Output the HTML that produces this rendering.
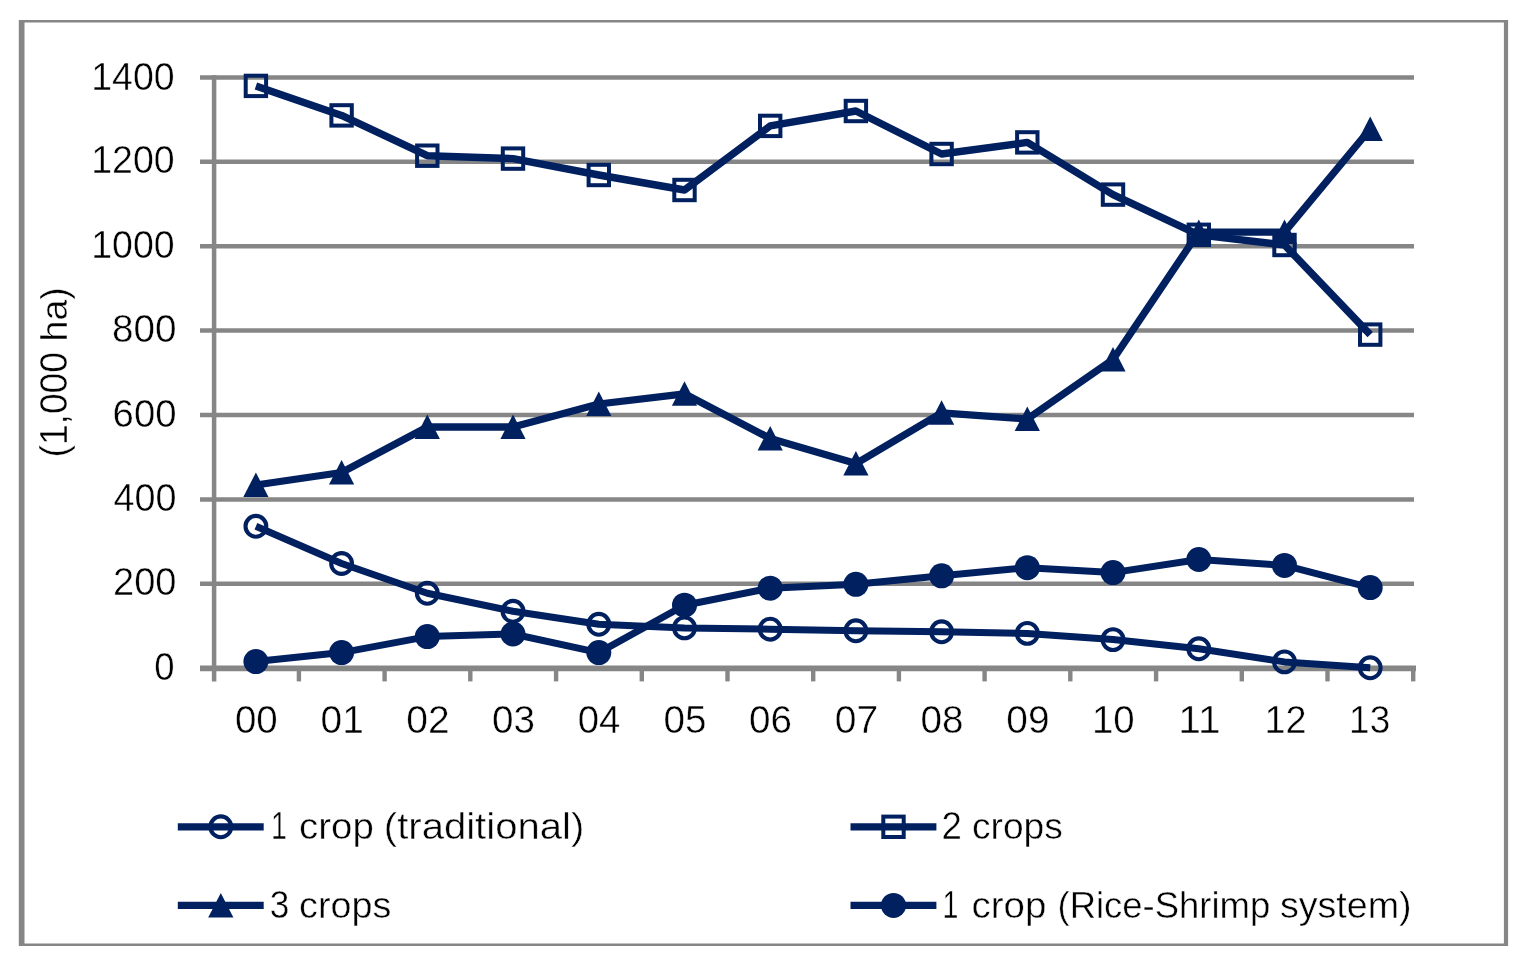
<!DOCTYPE html>
<html lang="en"><head><meta charset="utf-8"><title>Rice cropping area chart</title>
<style>html,body{margin:0;padding:0;background:#fff}body{width:1530px;height:970px;overflow:hidden}svg{display:block}text{font-family:"Liberation Sans",sans-serif;font-size:38px;fill:#000;stroke:#fff;stroke-width:0.45px}</style>
</head><body>
<svg width="1530" height="970" viewBox="0 0 1530 970">
<rect x="0" y="0" width="1530" height="970" fill="#fff"/>
<path d="M18.8 20.05H1508.1V946.1H18.8Z M24.5 22.55V943.6H1503.9V22.55Z" fill="#868686" fill-rule="evenodd"/>
<line x1="200" y1="77.4" x2="1414" y2="77.4" stroke="#868686" stroke-width="4.5"/>
<line x1="200" y1="161.8" x2="1414" y2="161.8" stroke="#868686" stroke-width="4.5"/>
<line x1="200" y1="246.2" x2="1414" y2="246.2" stroke="#868686" stroke-width="4.5"/>
<line x1="200" y1="330.6" x2="1414" y2="330.6" stroke="#868686" stroke-width="4.5"/>
<line x1="200" y1="415.0" x2="1414" y2="415.0" stroke="#868686" stroke-width="4.5"/>
<line x1="200" y1="499.4" x2="1414" y2="499.4" stroke="#868686" stroke-width="4.5"/>
<line x1="200" y1="583.8" x2="1414" y2="583.8" stroke="#868686" stroke-width="4.5"/>
<line x1="200" y1="668.2" x2="1414" y2="668.2" stroke="#868686" stroke-width="4.5"/>
<line x1="200" y1="668.3" x2="1416" y2="668.3" stroke="#868686" stroke-width="5.8"/>
<line x1="214.1" y1="75.15" x2="214.1" y2="681.4" stroke="#868686" stroke-width="4.5"/>
<line x1="298.9" y1="667" x2="298.9" y2="681.4" stroke="#868686" stroke-width="4.4"/>
<line x1="384.6" y1="667" x2="384.6" y2="681.4" stroke="#868686" stroke-width="4.4"/>
<line x1="470.3" y1="667" x2="470.3" y2="681.4" stroke="#868686" stroke-width="4.4"/>
<line x1="556.1" y1="667" x2="556.1" y2="681.4" stroke="#868686" stroke-width="4.4"/>
<line x1="641.8" y1="667" x2="641.8" y2="681.4" stroke="#868686" stroke-width="4.4"/>
<line x1="727.5" y1="667" x2="727.5" y2="681.4" stroke="#868686" stroke-width="4.4"/>
<line x1="813.2" y1="667" x2="813.2" y2="681.4" stroke="#868686" stroke-width="4.4"/>
<line x1="898.9" y1="667" x2="898.9" y2="681.4" stroke="#868686" stroke-width="4.4"/>
<line x1="984.6" y1="667" x2="984.6" y2="681.4" stroke="#868686" stroke-width="4.4"/>
<line x1="1070.3" y1="667" x2="1070.3" y2="681.4" stroke="#868686" stroke-width="4.4"/>
<line x1="1156.1" y1="667" x2="1156.1" y2="681.4" stroke="#868686" stroke-width="4.4"/>
<line x1="1241.8" y1="667" x2="1241.8" y2="681.4" stroke="#868686" stroke-width="4.4"/>
<line x1="1327.5" y1="667" x2="1327.5" y2="681.4" stroke="#868686" stroke-width="4.4"/>
<line x1="1413.2" y1="667" x2="1413.2" y2="681.4" stroke="#868686" stroke-width="4.4"/>
<text x="91.2" y="89.5" textLength="83.4" lengthAdjust="spacingAndGlyphs">1400</text>
<text x="91.2" y="172.8" textLength="83.4" lengthAdjust="spacingAndGlyphs">1200</text>
<text x="91.2" y="257.7" textLength="83.4" lengthAdjust="spacingAndGlyphs">1000</text>
<text x="112.0" y="342.4" textLength="64.5" lengthAdjust="spacingAndGlyphs">800</text>
<text x="112.6" y="427.2" textLength="63.9" lengthAdjust="spacingAndGlyphs">600</text>
<text x="113.4" y="510.5" textLength="63.0" lengthAdjust="spacingAndGlyphs">400</text>
<text x="113.0" y="595.3" textLength="63.5" lengthAdjust="spacingAndGlyphs">200</text>
<text x="154.3" y="680.1" textLength="20.3" lengthAdjust="spacingAndGlyphs">0</text>
<text x="234.9" y="733.4" textLength="42.8" lengthAdjust="spacingAndGlyphs">00</text>
<text x="320.6" y="733.4" textLength="43.2" lengthAdjust="spacingAndGlyphs">01</text>
<text x="406.3" y="733.4" textLength="43.4" lengthAdjust="spacingAndGlyphs">02</text>
<text x="492.0" y="733.4" textLength="43.0" lengthAdjust="spacingAndGlyphs">03</text>
<text x="577.7" y="733.4" textLength="42.6" lengthAdjust="spacingAndGlyphs">04</text>
<text x="663.4" y="733.4" textLength="43.0" lengthAdjust="spacingAndGlyphs">05</text>
<text x="749.1" y="733.4" textLength="43.0" lengthAdjust="spacingAndGlyphs">06</text>
<text x="834.8" y="733.4" textLength="43.4" lengthAdjust="spacingAndGlyphs">07</text>
<text x="920.6" y="733.4" textLength="43.0" lengthAdjust="spacingAndGlyphs">08</text>
<text x="1006.3" y="733.4" textLength="43.2" lengthAdjust="spacingAndGlyphs">09</text>
<text x="1091.9" y="733.4" textLength="42.7" lengthAdjust="spacingAndGlyphs">10</text>
<text x="1178.3" y="733.4" textLength="42.3" lengthAdjust="spacingAndGlyphs">11</text>
<text x="1264.5" y="733.4" textLength="42.1" lengthAdjust="spacingAndGlyphs">12</text>
<text x="1349.1" y="733.4" textLength="41.1" lengthAdjust="spacingAndGlyphs">13</text>
<text y="0.0" transform="translate(67 455) rotate(-90)"><tspan x="-2.5" textLength="105.5" lengthAdjust="spacingAndGlyphs" style="font-size:38px">(1,000</tspan> <tspan x="113.6" textLength="54.1" lengthAdjust="spacingAndGlyphs" style="font-size:36.3px">ha)</tspan></text>
<polyline points="255.9,526.3 341.6,563.5 427.3,593.3 513.0,611.3 598.8,624.3 684.5,627.9 770.2,629.2 855.9,630.8 941.6,631.8 1027.3,633.4 1113.0,639.6 1198.8,648.8 1284.5,661.9 1370.2,667.8" fill="none" stroke="#002060" stroke-width="7.0" stroke-linejoin="round" stroke-linecap="butt"/>
<circle cx="255.9" cy="526.3" r="10.4" fill="none" stroke="#002060" stroke-width="4.1"/>
<circle cx="341.6" cy="563.5" r="10.4" fill="none" stroke="#002060" stroke-width="4.1"/>
<circle cx="427.3" cy="593.3" r="10.4" fill="none" stroke="#002060" stroke-width="4.1"/>
<circle cx="513.0" cy="611.3" r="10.4" fill="none" stroke="#002060" stroke-width="4.1"/>
<circle cx="598.8" cy="624.3" r="10.4" fill="none" stroke="#002060" stroke-width="4.1"/>
<circle cx="684.5" cy="627.9" r="10.4" fill="none" stroke="#002060" stroke-width="4.1"/>
<circle cx="770.2" cy="629.2" r="10.4" fill="none" stroke="#002060" stroke-width="4.1"/>
<circle cx="855.9" cy="630.8" r="10.4" fill="none" stroke="#002060" stroke-width="4.1"/>
<circle cx="941.6" cy="631.8" r="10.4" fill="none" stroke="#002060" stroke-width="4.1"/>
<circle cx="1027.3" cy="633.4" r="10.4" fill="none" stroke="#002060" stroke-width="4.1"/>
<circle cx="1113.0" cy="639.6" r="10.4" fill="none" stroke="#002060" stroke-width="4.1"/>
<circle cx="1198.8" cy="648.8" r="10.4" fill="none" stroke="#002060" stroke-width="4.1"/>
<circle cx="1284.5" cy="661.9" r="10.4" fill="none" stroke="#002060" stroke-width="4.1"/>
<circle cx="1370.2" cy="667.8" r="10.4" fill="none" stroke="#002060" stroke-width="4.1"/>
<polyline points="255.9,85.9 341.6,115.4 427.3,155.7 513.0,158.6 598.8,175.0 684.5,190.0 770.2,125.9 855.9,111.0 941.6,154.0 1027.3,142.4 1113.0,194.6 1198.8,234.8 1284.5,245.0 1370.2,334.6" fill="none" stroke="#002060" stroke-width="7.4" stroke-linejoin="round" stroke-linecap="butt"/>
<rect x="245.7" y="75.7" width="20.4" height="20.4" fill="none" stroke="#002060" stroke-width="4"/>
<rect x="331.4" y="105.2" width="20.4" height="20.4" fill="none" stroke="#002060" stroke-width="4"/>
<rect x="417.1" y="145.5" width="20.4" height="20.4" fill="none" stroke="#002060" stroke-width="4"/>
<rect x="502.8" y="148.4" width="20.4" height="20.4" fill="none" stroke="#002060" stroke-width="4"/>
<rect x="588.6" y="164.8" width="20.4" height="20.4" fill="none" stroke="#002060" stroke-width="4"/>
<rect x="674.3" y="179.8" width="20.4" height="20.4" fill="none" stroke="#002060" stroke-width="4"/>
<rect x="760.0" y="115.7" width="20.4" height="20.4" fill="none" stroke="#002060" stroke-width="4"/>
<rect x="845.7" y="100.8" width="20.4" height="20.4" fill="none" stroke="#002060" stroke-width="4"/>
<rect x="931.4" y="143.8" width="20.4" height="20.4" fill="none" stroke="#002060" stroke-width="4"/>
<rect x="1017.1" y="132.2" width="20.4" height="20.4" fill="none" stroke="#002060" stroke-width="4"/>
<rect x="1102.8" y="184.4" width="20.4" height="20.4" fill="none" stroke="#002060" stroke-width="4"/>
<rect x="1188.6" y="224.6" width="20.4" height="20.4" fill="none" stroke="#002060" stroke-width="4"/>
<rect x="1274.3" y="234.8" width="20.4" height="20.4" fill="none" stroke="#002060" stroke-width="4"/>
<rect x="1360.0" y="324.4" width="20.4" height="20.4" fill="none" stroke="#002060" stroke-width="4"/>
<polyline points="255.9,485.0 341.6,472.5 427.3,427.0 513.0,427.0 598.8,404.0 684.5,393.8 770.2,438.5 855.9,463.6 941.6,412.8 1027.3,419.0 1113.0,359.5 1198.8,232.1 1284.5,232.1 1370.2,129.0" fill="none" stroke="#002060" stroke-width="7.3" stroke-linejoin="round" stroke-linecap="butt"/>
<polygon points="255.9,472.5 268.5,497.0 243.3,497.0" fill="#002060"/>
<polygon points="341.6,460.0 354.2,484.5 329.0,484.5" fill="#002060"/>
<polygon points="427.3,414.5 439.9,439.0 414.7,439.0" fill="#002060"/>
<polygon points="513.0,414.5 525.6,439.0 500.4,439.0" fill="#002060"/>
<polygon points="598.8,391.5 611.4,416.0 586.2,416.0" fill="#002060"/>
<polygon points="684.5,381.3 697.1,405.8 671.9,405.8" fill="#002060"/>
<polygon points="770.2,426.0 782.8,450.5 757.6,450.5" fill="#002060"/>
<polygon points="855.9,451.1 868.5,475.6 843.3,475.6" fill="#002060"/>
<polygon points="941.6,400.3 954.2,424.8 929.0,424.8" fill="#002060"/>
<polygon points="1027.3,406.5 1039.9,431.0 1014.7,431.0" fill="#002060"/>
<polygon points="1113.0,347.0 1125.6,371.5 1100.4,371.5" fill="#002060"/>
<polygon points="1198.8,219.6 1211.4,244.1 1186.2,244.1" fill="#002060"/>
<polygon points="1284.5,219.6 1297.1,244.1 1271.9,244.1" fill="#002060"/>
<polygon points="1370.2,116.5 1382.8,141.0 1357.6,141.0" fill="#002060"/>
<polyline points="255.9,661.6 341.6,652.6 427.3,636.6 513.0,634.0 598.8,652.6 684.5,605.2 770.2,588.2 855.9,584.3 941.6,575.8 1027.3,567.7 1113.0,572.6 1198.8,559.5 1284.5,565.4 1370.2,587.6" fill="none" stroke="#002060" stroke-width="7.0" stroke-linejoin="round" stroke-linecap="butt"/>
<circle cx="255.9" cy="661.6" r="12.5" fill="#002060"/>
<circle cx="341.6" cy="652.6" r="12.5" fill="#002060"/>
<circle cx="427.3" cy="636.6" r="12.5" fill="#002060"/>
<circle cx="513.0" cy="634.0" r="12.5" fill="#002060"/>
<circle cx="598.8" cy="652.6" r="12.5" fill="#002060"/>
<circle cx="684.5" cy="605.2" r="12.5" fill="#002060"/>
<circle cx="770.2" cy="588.2" r="12.5" fill="#002060"/>
<circle cx="855.9" cy="584.3" r="12.5" fill="#002060"/>
<circle cx="941.6" cy="575.8" r="12.5" fill="#002060"/>
<circle cx="1027.3" cy="567.7" r="12.5" fill="#002060"/>
<circle cx="1113.0" cy="572.6" r="12.5" fill="#002060"/>
<circle cx="1198.8" cy="559.5" r="12.5" fill="#002060"/>
<circle cx="1284.5" cy="565.4" r="12.5" fill="#002060"/>
<circle cx="1370.2" cy="587.6" r="12.5" fill="#002060"/>
<line x1="177.8" y1="826.8" x2="263.7" y2="826.8" stroke="#002060" stroke-width="7.2" stroke-linecap="butt"/>
<circle cx="220.8" cy="826.8" r="10.4" fill="none" stroke="#002060" stroke-width="4.1"/>
<text y="839.0"><tspan x="271.1" textLength="15.9" lengthAdjust="spacingAndGlyphs" style="font-size:38px">1</tspan> <tspan x="299.1" textLength="74.7" lengthAdjust="spacingAndGlyphs" style="font-size:36.3px">crop</tspan> <tspan x="383.8" textLength="200.5" lengthAdjust="spacingAndGlyphs" style="font-size:36.3px">(traditional)</tspan></text>
<line x1="850.5" y1="826.8" x2="936.4" y2="826.8" stroke="#002060" stroke-width="7.2" stroke-linecap="butt"/>
<rect x="883.3" y="816.6" width="20.4" height="20.4" fill="none" stroke="#002060" stroke-width="4"/>
<text y="839.0"><tspan x="941.6" textLength="20.4" lengthAdjust="spacingAndGlyphs" style="font-size:38px">2</tspan> <tspan x="972.0" textLength="90.8" lengthAdjust="spacingAndGlyphs" style="font-size:36.3px">crops</tspan></text>
<line x1="177.8" y1="905.4" x2="263.7" y2="905.4" stroke="#002060" stroke-width="7.2" stroke-linecap="butt"/>
<polygon points="220.8,892.9 233.4,917.4 208.2,917.4" fill="#002060"/>
<text y="917.8"><tspan x="269.7" textLength="19.6" lengthAdjust="spacingAndGlyphs" style="font-size:38px">3</tspan> <tspan x="299.1" textLength="92.2" lengthAdjust="spacingAndGlyphs" style="font-size:36.3px">crops</tspan></text>
<line x1="850.5" y1="905.4" x2="936.4" y2="905.4" stroke="#002060" stroke-width="7.2" stroke-linecap="butt"/>
<circle cx="893.5" cy="905.4" r="12.5" fill="#002060"/>
<text y="917.8"><tspan x="942.5" textLength="15.9" lengthAdjust="spacingAndGlyphs" style="font-size:38px">1</tspan> <tspan x="971.6" textLength="74.8" lengthAdjust="spacingAndGlyphs" style="font-size:36.3px">crop</tspan> <tspan x="1057.5" textLength="212.8" lengthAdjust="spacingAndGlyphs" style="font-size:36.3px">(Rice-Shrimp</tspan> <tspan x="1279.9" textLength="131.7" lengthAdjust="spacingAndGlyphs" style="font-size:36.3px">system)</tspan></text>
</svg>
</body></html>
